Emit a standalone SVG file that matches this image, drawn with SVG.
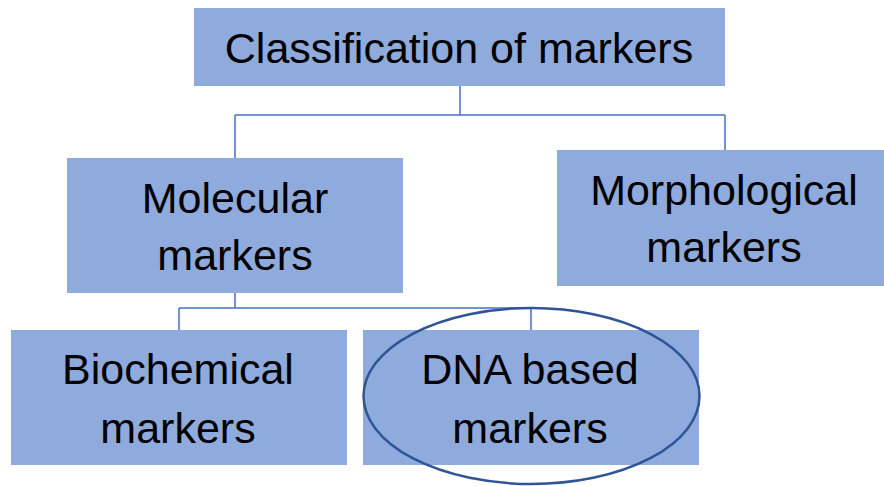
<svg xmlns="http://www.w3.org/2000/svg" width="884" height="486" viewBox="0 0 884 486">
<style>
.box{fill:#8FAADC;}
.t{font-family:"Liberation Sans",Arial,sans-serif;font-size:43px;fill:#000;text-anchor:middle;}
.c{stroke:#4472C4;stroke-width:1.5;fill:none;}
.hl{fill:none;stroke:#2F5597;stroke-width:2.5;}
</style>
<rect width="884" height="486" fill="#fff"/>
<g id="connectors">
<path class="c" d="M460,86 V115 M235,115 H725 M235,115 V158 M725,115 V150"/>
<path class="c" d="M235,293 V308 M179,308 H531 M179,308 V330 M531,308 V330"/>
</g>
<g id="classification">
<rect class="box" x="194" y="8" width="531" height="78"/>
<text class="t" x="459" y="63">Classification of markers</text>
</g>
<g id="molecular">
<rect class="box" x="67" y="158" width="336" height="135"/>
<text class="t" x="235" y="213">Molecular</text>
<text class="t" x="235" y="270">markers</text>
</g>
<g id="morphological">
<rect class="box" x="557" y="150" width="327" height="136"/>
<text class="t" x="724" y="205">Morphological</text>
<text class="t" x="724" y="262">markers</text>
</g>
<g id="biochemical">
<rect class="box" x="11" y="330" width="336" height="135"/>
<text class="t" x="178" y="384">Biochemical</text>
<text class="t" x="178" y="443">markers</text>
</g>
<g id="dna">
<rect class="box" x="363" y="330" width="336" height="135"/>
<text class="t" x="530" y="384">DNA based</text>
<text class="t" x="530" y="443">markers</text>
<ellipse class="hl" cx="531.5" cy="396" rx="168" ry="88"/>
</g>
</svg>
